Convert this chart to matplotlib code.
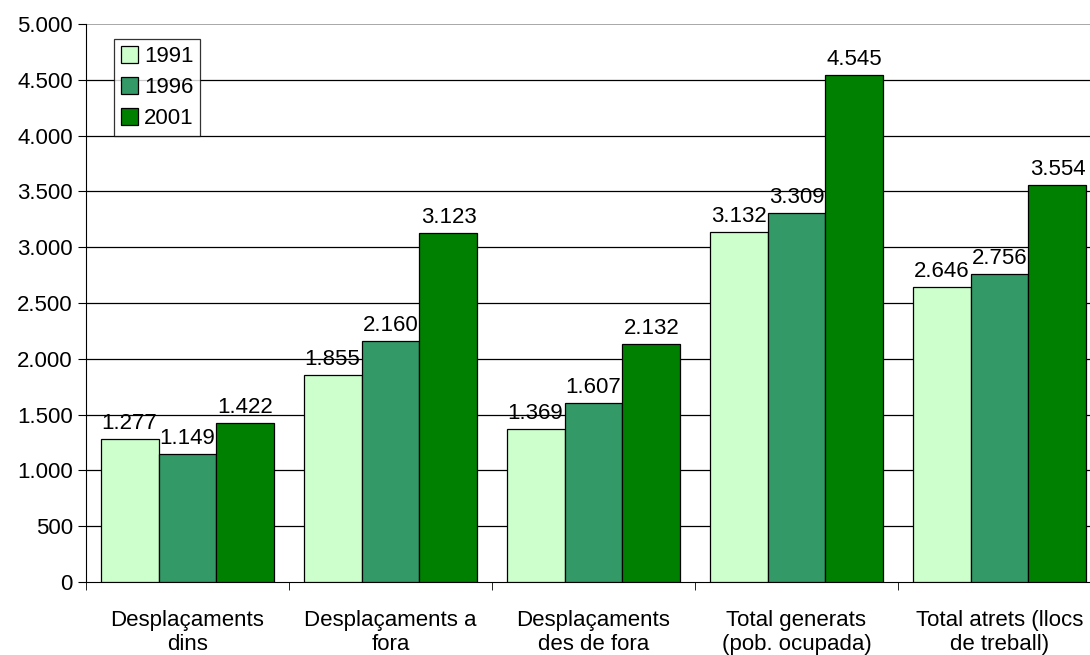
import numpy as np
import matplotlib.pyplot as plt
from matplotlib.ticker import FuncFormatter, MultipleLocator

categories = ['Desplaçaments\ndins', 'Desplaçaments a\nfora', 'Desplaçaments\ndes de fora',
              'Total generats\n(pob. ocupada)', 'Total atrets (llocs\nde treball)']
years = ['1991', '1996', '2001']
v1991 = [1277, 1855, 1369, 3132, 2646]
v1996 = [1149, 2160, 1607, 3309, 2756]
v2001 = [1422, 3123, 2132, 4545, 3554]
colors = ['#CCFFCC', '#339966', '#008000']

plt.rcParams['font.family'] = ['Liberation Sans', 'DejaVu Sans']

fig = plt.figure(figsize=(10.9, 6.55), dpi=100)
ax = fig.add_axes([86 / 1090, 73 / 655, 1015 / 1090, 558 / 655])

x = np.arange(len(categories))
w = 0.857 / 3
for i, (vals, yr) in enumerate(zip([v1991, v1996, v2001], years)):
    bars = ax.bar(x + (i - 1) * w, vals, w, color=colors[i], edgecolor='black',
                  linewidth=0.9, label=yr, zorder=3)
    for b, v in zip(bars, vals):
        ax.text(b.get_x() + b.get_width() / 2, v + 45, f'{v:,}'.replace(',', '.'),
                ha='center', va='bottom', fontsize=16)

ax.set_xlim(-0.5, len(categories) - 0.5)
ax.set_ylim(0, 5000)
ax.yaxis.set_major_locator(MultipleLocator(500))
ax.yaxis.set_major_formatter(FuncFormatter(lambda v, p: f'{int(v):,}'.replace(',', '.')))
ax.hlines(np.arange(500, 5000, 500), -0.5, len(categories) - 0.5, color='black',
          linewidth=0.9, zorder=0)
ax.axhline(5000, color='#999999', linewidth=1.2, zorder=1)
ax.set_xticks(x)
ax.set_xticklabels(categories, fontsize=16)
ax.set_xticks(np.arange(len(categories) + 1) - 0.5, minor=True)
ax.tick_params(axis='x', which='major', length=0, pad=20)
ax.tick_params(axis='x', which='minor', length=6, direction='out')
ax.tick_params(axis='y', labelsize=16, length=6, direction='out')
for s in ['top', 'right']:
    ax.spines[s].set_visible(False)

leg = ax.legend(loc='upper left', bbox_to_anchor=(28 / 1015, 1 - 15 / 558), fontsize=16,
                frameon=True, fancybox=False, edgecolor='black', handlelength=0.8,
                handleheight=0.8, handletextpad=0.25, borderpad=0.3, labelspacing=0.45,
                borderaxespad=0)
leg.get_frame().set_linewidth(0.9)

fig.savefig('out.png', dpi=100)
